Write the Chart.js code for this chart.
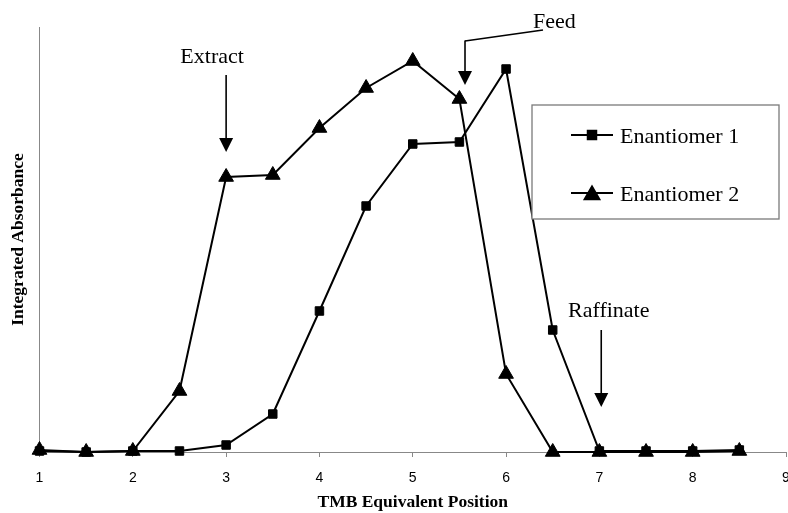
<!DOCTYPE html>
<html>
<head>
<meta charset="utf-8">
<script src="https://cdn.jsdelivr.net/npm/chart.js@4/dist/chart.umd.min.js"></script>
<style>
  html, body { margin: 0; padding: 0; background: #fff; }
  #wrap { width: 788px; height: 513px; }
</style>
</head>
<body>
<div id="wrap"><canvas id="c" width="788" height="513"></canvas></div>
<script>
// TMB equivalent positions sampled along the unit
const positions = [1, 1.5, 2, 2.5, 3, 3.5, 4, 4.5, 5, 5.5, 6, 6.5, 7, 7.5, 8, 8.5];
// Integrated absorbance profiles
const enantiomer1 = [0.01, 0.0, 0.01, 0.01, 0.07, 0.38, 1.41, 2.46, 3.08, 3.10, 3.83, 1.22, 0.01, 0.01, 0.01, 0.02];
const enantiomer2 = [0.02, 0.0, 0.01, 0.61, 2.75, 2.77, 3.24, 3.64, 3.91, 3.53, 0.78, 0.0, 0.0, 0.0, 0.0, 0.01];
const seriesNames = ['Enantiomer 1', 'Enantiomer 2'];
const xTicks = [1, 2, 3, 4, 5, 6, 7, 8, 9];

// Port labels with arrows: arrow position on x, arrow tip height in data units
const portLabels = ['Extract', 'Feed', 'Raffinate'];
const portX = [3.0, 5.56, 7.02];
const portTip = [3.0, 3.67, 0.45];

const SERIF = '"Liberation Serif", "Times New Roman", serif';
const SANS = '"Liberation Sans", Arial, sans-serif';

const toPoints = (ys) => positions.map((x, i) => ({ x, y: ys[i] }));

function arrowDown(ctx, x, yFrom, yTip) {
  ctx.beginPath();
  ctx.moveTo(x, yFrom);
  ctx.lineTo(x, yTip - 12);
  ctx.stroke();
  ctx.beginPath();
  ctx.moveTo(x - 7, yTip - 14);
  ctx.lineTo(x + 7, yTip - 14);
  ctx.lineTo(x, yTip);
  ctx.closePath();
  ctx.fill();
}

const annotations = {
  id: 'annotations',
  afterDraw(chart) {
    const { ctx, scales: { x, y } } = chart;
    ctx.save();
    ctx.fillStyle = '#000';
    ctx.strokeStyle = '#000';
    ctx.lineWidth = 1.6;
    ctx.font = '22px ' + SERIF;
    ctx.textBaseline = 'alphabetic';

    // Extract
    let ax = x.getPixelForValue(portX[0]), ay = y.getPixelForValue(portTip[0]);
    ctx.textAlign = 'center';
    ctx.fillText(portLabels[0], ax - 14, ay - 89);
    arrowDown(ctx, ax, ay - 77, ay);

    // Feed (with elbow leader)
    ax = x.getPixelForValue(portX[1]); ay = y.getPixelForValue(portTip[1]);
    ctx.textAlign = 'left';
    ctx.fillText(portLabels[1], ax + 68, ay - 57);
    ctx.beginPath();
    ctx.moveTo(ax + 78, ay - 55);
    ctx.lineTo(ax, ay - 44);
    ctx.stroke();
    arrowDown(ctx, ax, ay - 44.5, ay);

    // Raffinate
    ax = x.getPixelForValue(portX[2]); ay = y.getPixelForValue(portTip[2]);
    ctx.textAlign = 'center';
    ctx.fillText(portLabels[2], ax + 7.5, ay - 90);
    arrowDown(ctx, ax, ay - 77, ay);

    // Legend box
    const bx = 532, by = 105, bw = 247, bh = 114;
    ctx.fillStyle = '#fff';
    ctx.fillRect(bx, by, bw, bh);
    ctx.strokeStyle = '#7a7a7a';
    ctx.lineWidth = 1.3;
    ctx.strokeRect(bx, by, bw, bh);

    const rows = [135, 193];
    chart.data.datasets.forEach((ds, i) => {
      const ly = rows[i];
      ctx.strokeStyle = '#000';
      ctx.lineWidth = 2;
      ctx.beginPath();
      ctx.moveTo(571, ly);
      ctx.lineTo(613, ly);
      ctx.stroke();
      ctx.fillStyle = '#000';
      Chart.helpers.drawPoint(ctx, {
        pointStyle: ds.pointStyle, radius: ds.pointRadius, rotation: 0, borderWidth: 1
      }, 592, i === 1 ? ly + 2 : ly);
      ctx.fillStyle = '#000';
      ctx.textAlign = 'left';
      ctx.font = '22px ' + SERIF;
      ctx.fillText(ds.label, 620, ly + 7.5);
    });
    ctx.restore();
  }
};

new Chart(document.getElementById('c'), {
  type: 'line',
  data: {
    datasets: [
      {
        label: seriesNames[0],
        data: toPoints(enantiomer1),
        borderColor: '#000',
        backgroundColor: '#000',
        borderWidth: 2,
        pointStyle: 'rect',
        pointRadius: 6,
        pointBorderWidth: 1,
        pointBackgroundColor: '#000',
        pointBorderColor: '#000',
        tension: 0,
        clip: false
      },
      {
        label: seriesNames[1],
        data: toPoints(enantiomer2),
        borderColor: '#000',
        backgroundColor: '#000',
        borderWidth: 2,
        pointStyle: 'triangle',
        pointRadius: 8.5,
        pointBorderWidth: 1,
        pointBackgroundColor: '#000',
        pointBorderColor: '#000',
        tension: 0,
        clip: false
      }
    ]
  },
  options: {
    responsive: false,
    animation: false,
    events: [],
    layout: { autoPadding: false, padding: { top: 27, right: 2, left: 0, bottom: 0 } },
    plugins: { legend: { display: false }, tooltip: { enabled: false } },
    scales: {
      x: {
        type: 'linear',
        min: 1,
        max: 9,
        afterBuildTicks: (s) => { s.ticks = xTicks.map(v => ({ value: v })); },
        ticks: {
          font: { family: SANS, size: 14 },
          color: '#000',
          padding: 13,
          maxRotation: 0,
          autoSkip: false
        },
        grid: { display: true, drawOnChartArea: false, drawTicks: true, tickLength: 5, color: '#888' },
        border: { display: true, color: '#888', width: 1 },
        title: {
          display: true,
          text: 'TMB Equivalent Position',
          font: { family: SERIF, size: 17.5, weight: 'bold' },
          color: '#000',
          padding: { top: 0, bottom: 0 }
        },
        afterFit: (s) => { s.height = 61; s.paddingLeft = 0; s.paddingRight = 0; }
      },
      y: {
        min: 0,
        max: 4.25,
        ticks: { display: false },
        grid: { display: false },
        border: { display: true, color: '#888', width: 1 },
        title: {
          display: true,
          text: 'Integrated Absorbance',
          font: { family: SERIF, size: 17.5, weight: 'bold' },
          color: '#000',
          padding: { top: 8, bottom: 0 }
        },
        afterFit: (s) => { s.width = 39.5; }
      }
    }
  },
  plugins: [annotations]
});
</script>
</body>
</html>
